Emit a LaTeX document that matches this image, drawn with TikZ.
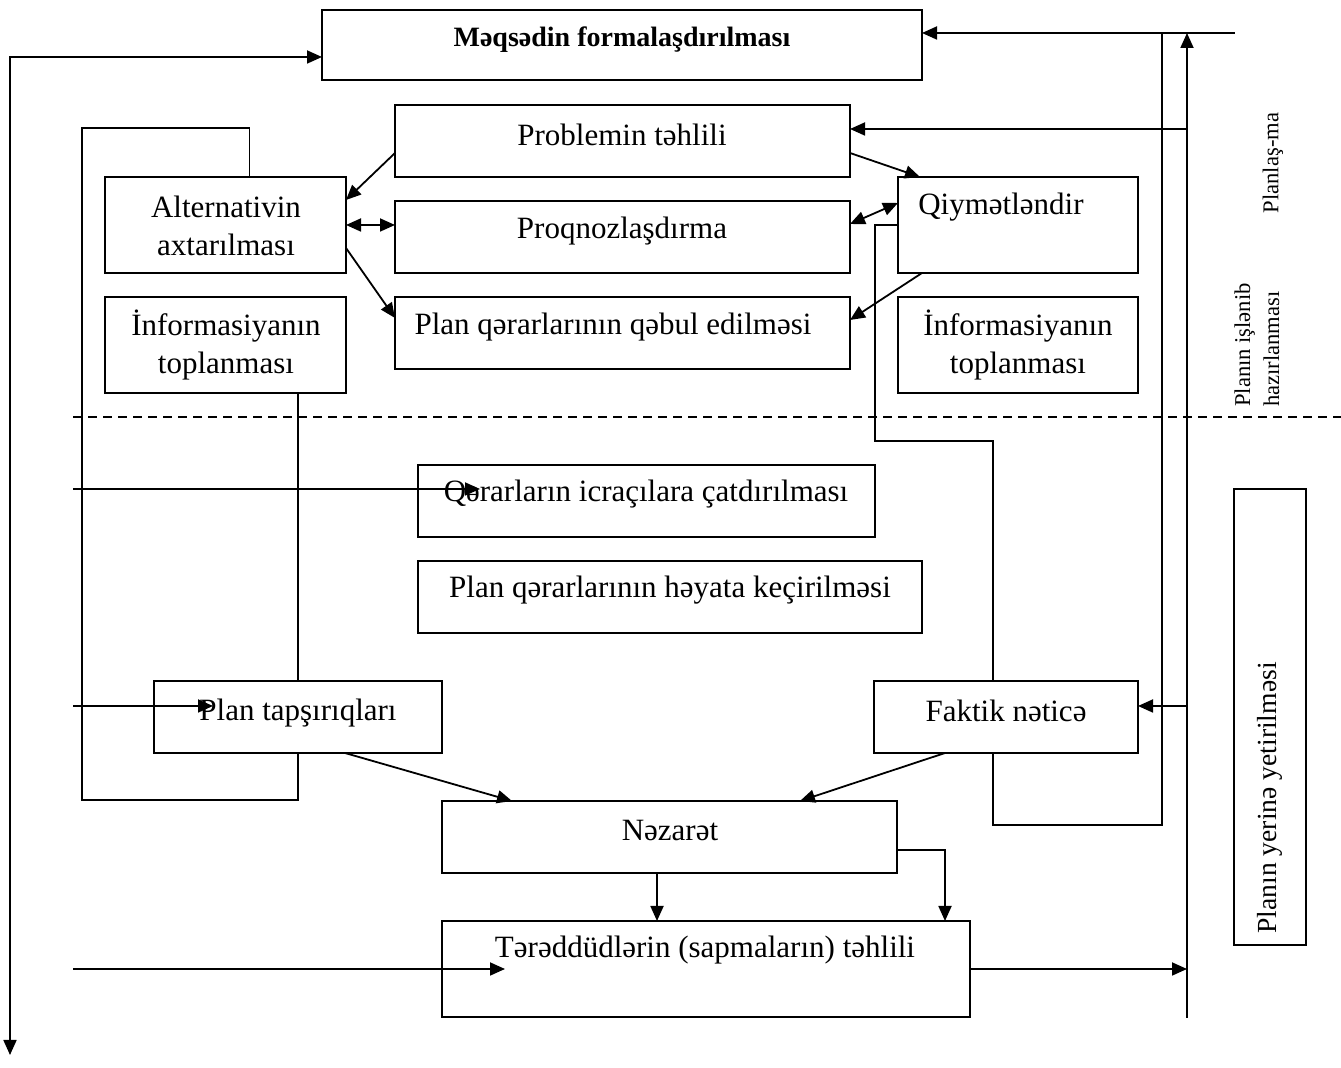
\documentclass[tikz,border=0pt]{standalone}
\usepackage{fontspec}
\setmainfont{Liberation Serif}
\usetikzlibrary{arrows.meta,calc}
\newcommand\bx[5]{\node[box, minimum width={(#4-#2)*0.5pt}, minimum height={(#5-#3)*0.5pt}] (#1) at ({(#2+#4)/2},{(#3+#5)/2}) {};}
\begin{document}
\begin{tikzpicture}[x=0.5pt,y=-0.5pt,
  box/.style={draw, line width=0.9pt, inner sep=0pt, outer sep=0pt},
  lbl/.style={inner sep=0pt, font=\fontsize{15.5}{18.8}\selectfont, align=center},
  small/.style={inner sep=0pt, font=\fontsize{11.3}{14.5}\selectfont, align=left, rotate=90},
  ln/.style={line width=0.9pt},
  arr/.style={ln, -{Triangle[length=7.5pt,width=6.5pt]}},
  darr/.style={ln, {Triangle[length=7.5pt,width=6.5pt]}-{Triangle[length=7.5pt,width=6.5pt]}},
]
\useasboundingbox (0,0) rectangle (1341,1068);
% boxes
\bx{meq}{322}{10}{922}{80}
\bx{prob}{395}{105}{850}{177}
\bx{alt}{105}{177}{346}{273}
\bx{proq}{395}{201}{850}{273}
\bx{qiy}{898}{177}{1138}{273}
\bx{plq}{395}{297}{850}{369}
\bx{infL}{105}{297}{346}{393}
\bx{infR}{898}{297}{1138}{393}
\bx{qer}{418}{465}{875}{537}
\bx{hey}{418}{561}{922}{633}
\bx{tap}{154}{681}{442}{753}
\bx{fak}{874}{681}{1138}{753}
\bx{nez}{442}{801}{897}{873}
\bx{ter}{442}{921}{970}{1017}
\bx{pyy}{1234}{489}{1306}{945}
% texts
\node[lbl, font=\fontsize{14}{16}\selectfont\bfseries] (tMeq) at (622,40) {Məqsədin formalaşdırılması};
\node[lbl] (tProb) at (622,135) {Problemin təhlili};
\node[lbl] (tAlt) at (226,226) {Alternativin\\axtarılması};
\node[lbl] (tProq) at (622,231) {Proqnozlaşdırma};
\node[lbl] (tQiy) at (1001,207) {Qiymətləndir};
\node[lbl] (tPlq) at (613,327) {Plan qərarlarının qəbul edilməsi};
\node[lbl] (tInfL) at (226,345) {İnformasiyanın\\toplanması};
\node[lbl] (tInfR) at (1018,345) {İnformasiyanın\\toplanması};
\node[lbl] (tQer) at (646,494) {Qərarların icraçılara çatdırılması};
\node[lbl] (tHey) at (670,590) {Plan qərarlarının həyata keçirilməsi};
\node[lbl] (tTap) at (298,713) {Plan tapşırıqları};
\node[lbl] (tFak) at (1006,711) {Faktik nəticə};
\node[lbl] (tNez) at (670,831) {Nəzarət};
\node[lbl] (tTer) at (705,950) {Tərəddüdlərin (sapmaların) təhlili};
\node[lbl, font=\fontsize{13.8}{16}\selectfont, rotate=90] (tPyy) at (1270,798) {Planın yerinə yetirilməsi};
\node[small] (tPl) at (1273,163) {Planlaş-ma};
\node[small] (tPih) at (1257,345) {Planın işlənib\\hazırlanması};
% coordinates
\coordinate (outB) at (10,1055);
\coordinate (LL1) at (82,128);
\coordinate (LL2) at (82,800);
\coordinate (RL1) at (875,441);
\coordinate (RB) at (1162,825);
\coordinate (V2top) at (1162,33);
\coordinate (topR) at (1235,33);
\coordinate (V1top) at (1187,33);
\coordinate (V1bot) at (1187,1018);
\coordinate (probE) at ([yshift=6pt]prob.east);
\coordinate (fakE) at ([yshift=5.5pt]fak.east);
\coordinate (nS) at ([xshift=-6.25pt]nez.south);
\coordinate (nE) at ([yshift=-6.5pt]nez.east);
\coordinate (nR) at (945,850);
\coordinate (inA) at (73,489);
\coordinate (inB) at (73,706);
\coordinate (inC) at (73,969);
\coordinate (dL) at (73,417);
\coordinate (dR) at (1341,417);
% connectors
\draw[darr] ([yshift=-6pt]meq.west) -| (outB);
\draw[ln] ([xshift=12pt]alt.north) |- (LL1) -- (LL2) -| (tap.south);
\draw[ln] (tap.north |- infL.south) -- (tap.north);
\draw[ln] (qiy.west) -| (RL1) -| ([xshift=-6.5pt]fak.north);
\draw[arr] ([xshift=-6.5pt]fak.south) |- (RB) -- (V2top) -- ([yshift=6pt]meq.east);
\draw[ln] (V2top) -- (topR);
\draw[arr] (V1bot) -- (V1top);
\draw[arr] (probE -| V1bot) -- (probE);
\draw[arr] (fakE -| V1bot) -- (fakE);
\draw[arr] (ter.east) -- (ter.east -| V1bot);
\draw[arr] ([yshift=-6pt]prob.west) -- ([yshift=12.5pt]alt.east);
\draw[darr] (alt.east) -- (alt.east -| proq.west);
\draw[arr] ([yshift=-11.5pt]alt.east) -- ([yshift=7.5pt]plq.west);
\draw[arr] ([yshift=-6pt]prob.east) -- ([xshift=-49pt]qiy.north);
\draw[darr] ([yshift=11pt]qiy.west) -- ([yshift=6.5pt]proq.east);
\draw[arr] ([xshift=-48pt]qiy.south) -- ([yshift=6.5pt]plq.east);
\draw[arr] ([xshift=23.5pt]tap.south) -- ([xshift=-78.75pt]nez.north);
\draw[arr] ([xshift=-30.5pt]fak.south) -- ([xshift=65.25pt]nez.north);
\draw[arr] (nS) -- (nS |- ter.north);
\draw[arr] (nE) -- (nR) -- (nR |- ter.north);
\draw[arr] (inA) -- ++(407,0);
\draw[arr] (inB) -- ++(140,0);
\draw[arr] (inC) -- ++(432,0);
\draw[ln, dash pattern=on 4.5pt off 3pt] (dL) -- (dR);
\end{tikzpicture}
\end{document}
